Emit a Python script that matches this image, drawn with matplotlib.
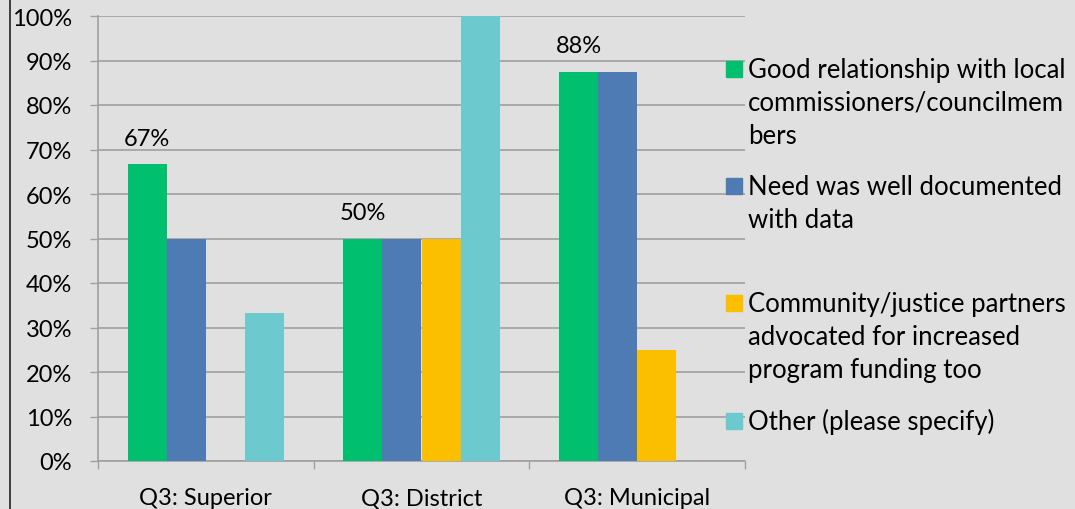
import matplotlib
matplotlib.use('Agg')
import matplotlib.pyplot as plt
from matplotlib.patches import Rectangle
from matplotlib.lines import Line2D
import numpy as np

# Data
categories = ['Q3: Superior', 'Q3: District', 'Q3: Municipal']
series = [
    'Good relationship with local\ncommissioners/councilmem\nbers',
    'Need was well documented\nwith data',
    'Community/justice partners\nadvocated for increased\nprogram funding too',
    'Other (please specify)',
]
good_rel = [66.7, 50.0, 87.5]
documented = [50.0, 50.0, 87.5]
partners = [0.0, 50.0, 25.0]
other = [33.3, 100.0, 0.0]
values = [good_rel, documented, partners, other]
labelled = [True, False, False, False]

# Colors
BG = '#E0E0E0'
GRID = '#A0A0A0'
TEXT = '#000000'
COLORS = ['#00C06F', '#4F7BB4', '#FBBF00', '#6CC9CD']

plt.rcParams['font.family'] = ['Lato', 'DejaVu Sans']

fig = plt.figure(figsize=(10.75, 5.10), dpi=100, facecolor=BG)
ax = fig.add_axes([98 / 1075, 1 - 462 / 510, 647 / 1075, 445 / 510])
ax.set_facecolor(BG)

x = np.arange(len(categories))
width = 0.181
offsets = [-1.5, -0.5, 0.5, 1.5]
for vals, color, off, lab in zip(values, COLORS, offsets, labelled):
    bars = ax.bar(x + off * width, vals, width, color=color, linewidth=0, zorder=3)
    if lab:
        for b, v in zip(bars, vals):
            ax.text(b.get_x() + b.get_width() / 2, v + 4.3, f'{v:.0f}%',
                    ha='center', va='baseline', fontsize=17, color=TEXT)

ax.set_xlim(-0.5, 2.5)
ax.set_ylim(0, 100)
ax.set_yticks(np.arange(0, 101, 10))
ax.set_yticklabels([f'{t}%' for t in range(0, 101, 10)])
ax.set_xticks(x)
ax.set_xticklabels(categories)
ax.set_xticks(np.arange(-0.5, 3, 1), minor=True)
ax.tick_params(axis='x', which='major', length=0, pad=19, labelsize=17, colors=TEXT)
ax.tick_params(axis='x', which='minor', length=6, width=1, color=GRID, direction='out')
ax.tick_params(axis='y', length=6, width=1, color=GRID, pad=12.7, labelsize=17, labelcolor=TEXT)
ax.grid(axis='y', color=GRID, linewidth=1.2, zorder=0)

for s in ['top', 'right']:
    ax.spines[s].set_visible(False)
for s in ['left', 'bottom']:
    ax.spines[s].set_color(GRID)
    ax.spines[s].set_linewidth(1.2)

# Legend drawn manually (baseline of first line of each entry, in pixels)
legend_base = [78, 195, 312, 430]
line_step = 33
for label, color, yb in zip(series, COLORS, legend_base):
    fig.patches.append(Rectangle((726 / 1075, 1 - yb / 510), 16 / 1075, 16 / 510,
                                 transform=fig.transFigure, color=color, figure=fig))
    for i, line in enumerate(label.split('\n')):
        fig.text(748 / 1075, 1 - (yb + i * line_step) / 510, line, ha='left',
                 va='baseline', fontsize=18.5, color=TEXT)

# left border line
fig.add_artist(Line2D([10 / 1075, 10 / 1075], [0, 1], transform=fig.transFigure,
                      color='#222222', linewidth=1.2))

fig.savefig('out.png', dpi=100, facecolor=BG)
